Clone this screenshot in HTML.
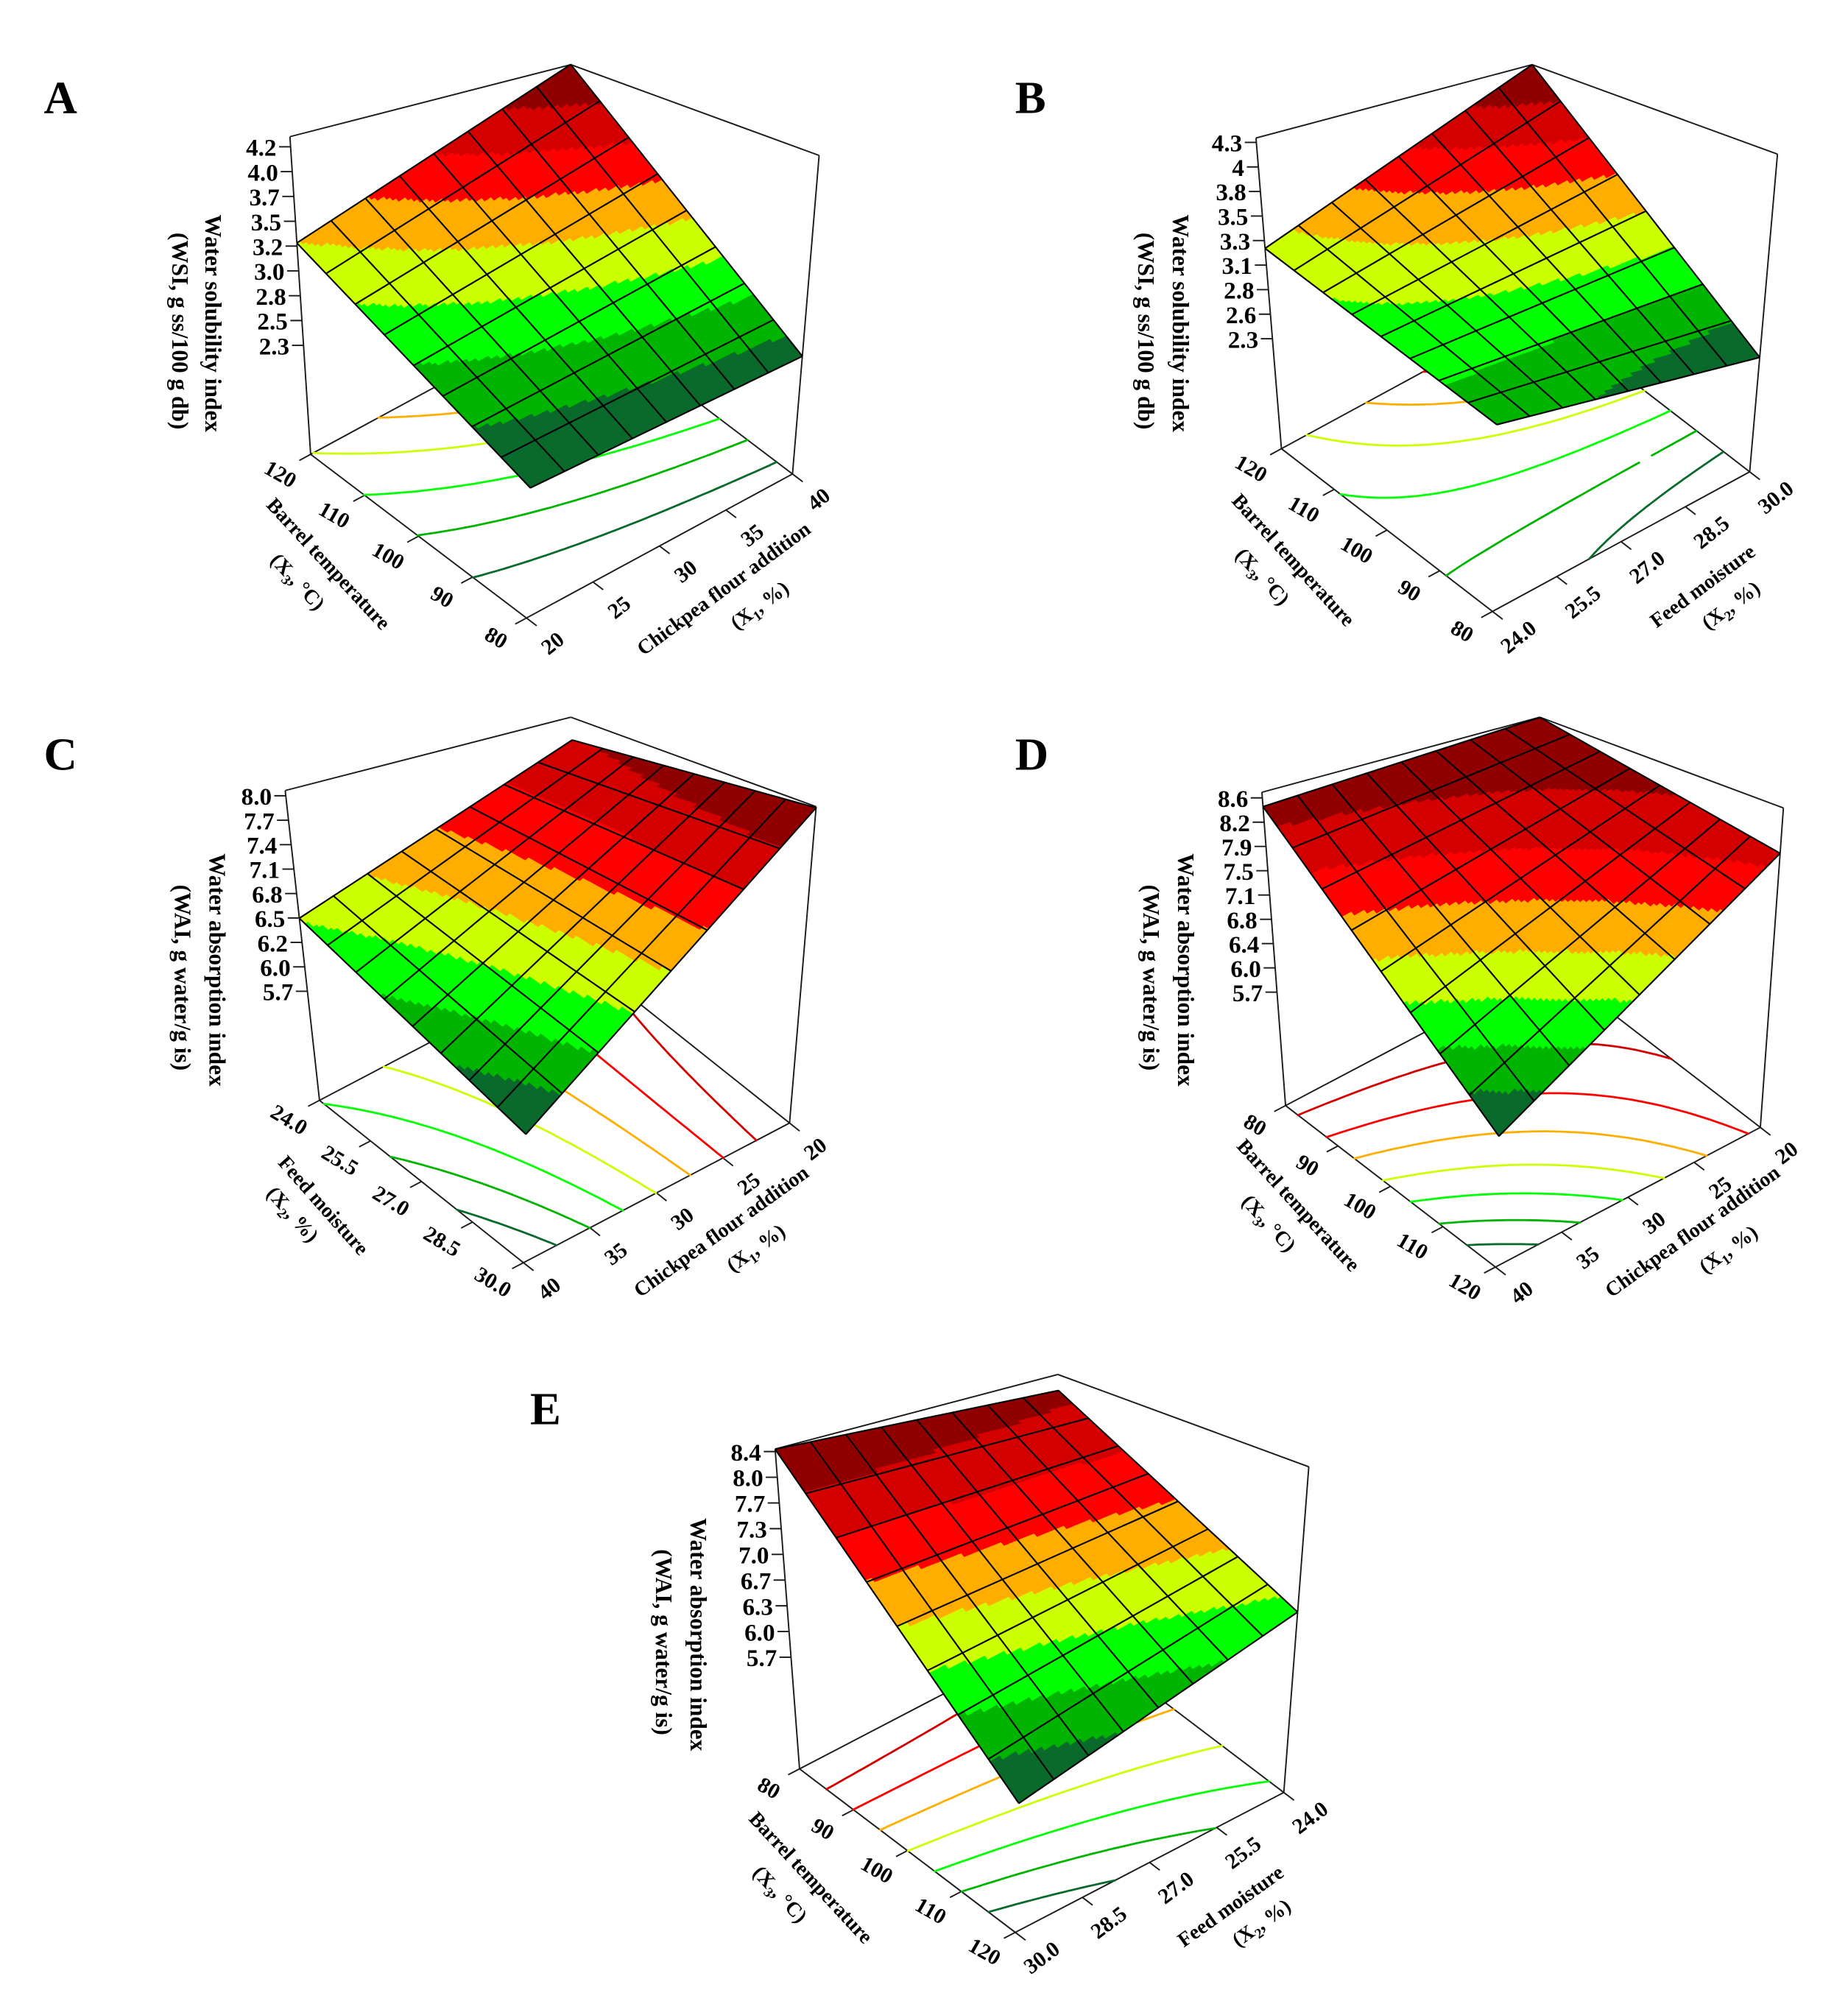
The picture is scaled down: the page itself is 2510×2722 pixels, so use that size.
<!DOCTYPE html>
<html><head><meta charset="utf-8"><title>Response surface plots</title>
<style>
html,body{margin:0;padding:0;background:#fff;}
svg{display:block;}
text{font-family:"Liberation Serif",serif;font-weight:bold;fill:#000;}
</style></head>
<body>
<svg id="fig" xmlns="http://www.w3.org/2000/svg" width="2510" height="2722" viewBox="0 0 1440 1562"></svg>
<script>
// ---------------- DATA ----------------
const colors = ['#0a6a2c','#00b400','#00ff00','#ccff00','#ffae00','#ff0000','#d40000','#900000'];
// surface values at corners [front, right, left, back]
const cornersA = [2.27, 2.38, 3.28, 4.30];
const cornersB = [2.72, 2.32, 3.22, 4.345];
const cornersC = [5.64, 8.05, 6.56, 7.72];
const cornersD = [5.60, 8.02, 8.47, 8.68];
const cornersE = [5.62, 6.56, 8.43, 8.17];
// z axis limits (floor, top of box)
const zLimA = [1.257, 4.297];
const zLimB = [1.18, 4.345];
const zLimC = [4.417, 8.062];
const zLimD = [4.007, 8.684];
const zLimE = [4.234, 8.434];
// contour / band levels
const levelsA = [2.52, 2.78, 3.03, 3.29, 3.54, 3.79, 4.05];
const levelsB = [2.57, 2.83, 3.08, 3.33, 3.59, 3.84, 4.09];
const levelsC = [5.94, 6.24, 6.54, 6.84, 7.15, 7.45, 7.75];
const levelsD = [5.99, 6.37, 6.76, 7.14, 7.53, 7.91, 8.30];
const levelsE = [5.97, 6.32, 6.67, 7.02, 7.38, 7.73, 8.08];
// z tick labels (top to bottom) and their value range
const zTicksA = ['4.2','4.0','3.7','3.5','3.2','3.0','2.8','2.5','2.3'];
const zTicksB = ['4.3','4','3.8','3.5','3.3','3.1','2.8','2.6','2.3'];
const zTicksC = ['8.0','7.7','7.4','7.1','6.8','6.5','6.2','6.0','5.7'];
const zTicksD = ['8.6','8.2','7.9','7.5','7.1','6.8','6.4','6.0','5.7'];
const zTicksE = ['8.4','8.0','7.7','7.3','7.0','6.7','6.3','6.0','5.7'];
const zRangeA = [2.3, 4.2];
const zRangeB = [2.3, 4.3];
const zRangeC = [5.7, 8.0];
const zRangeD = [5.7, 8.6];
const zRangeE = [5.7, 8.4];
// floor tick labels: left edge (left corner -> front), right edge (front -> right corner)
const leftTicksA = ['120','110','100','90','80'];
const rightTicksA = ['20','25','30','35','40'];
const leftTicksB = ['120','110','100','90','80'];
const rightTicksB = ['24.0','25.5','27.0','28.5','30.0'];
const leftTicksC = ['24.0','25.5','27.0','28.5','30.0'];
const rightTicksC = ['40','35','30','25','20'];
const leftTicksD = ['80','90','100','110','120'];
const rightTicksD = ['40','35','30','25','20'];
const leftTicksE = ['80','90','100','110','120'];
const rightTicksE = ['30.0','28.5','27.0','25.5','24.0'];

// ---------------- GEOMETRY (zoom-frame coords + transform) ----------------
const geoA = {ox:0, oy:-3, sx:1/2.17, sy:1/2.94, F:[890,1425], R:[1340,1095], L:[525,1050], TL:[490,322], TB:[965,157], TR:[1385,365]};
const geoB = {ox:723, oy:-3, sx:1/2.17, sy:1/2.94, F:[955,1410], R:[1390,1090], L:[598,1037], TL:[555,325], TB:[1022,157], TR:[1437,362]};
const geoC = {ox:0, oy:525, sx:1/2.17, sy:1/2.94, F:[885,1350], R:[1335,1030], L:[540,978], TL:[482,268], TB:[965,100], TR:[1380,305]};
const geoD = {ox:723, oy:525, sx:1/2.17, sy:1/2.94, F:[960,1360], R:[1408,1040], L:[605,990], TL:[565,272], TB:[1035,100], TR:[1447,308]};
const geoE = {ox:373, oy:1061, sx:1/2.26, sy:1/3.10, F:[945,1380], R:[1418,1042], L:[565,985], TL:[522,212], TB:[1020,32], TR:[1462,255]};

const NS = 'http://www.w3.org/2000/svg';
const svg = document.getElementById('fig');
function mk(tag, attrs, parent){
  const e = document.createElementNS(NS, tag);
  for (const k in attrs) e.setAttribute(k, attrs[k]);
  parent.appendChild(e);
  return e;
}
function bil(a,b,c,d,u,v){ // a=(0,0) b=(1,0) c=(0,1) d=(1,1)
  return [(1-u)*(1-v)*a[0]+u*(1-v)*b[0]+(1-u)*v*c[0]+u*v*d[0],
          (1-u)*(1-v)*a[1]+u*(1-v)*b[1]+(1-u)*v*c[1]+u*v*d[1]];
}
function bilS(z,u,v){ return (1-u)*(1-v)*z[0]+u*(1-v)*z[1]+(1-u)*v*z[2]+u*v*z[3]; }

function drawPanel(id, letter, letterPos, geo, corners, zLim, levels, zTicks, zRange, leftTicks, rightTicks, zTitle, zTitlePos, leftTitle, leftTitlePos, rightTitle, rightTitlePos){
  const g = mk('g', {}, svg);
  
  
  const T = p => [geo.ox + p[0]*geo.sx, geo.oy + p[1]*geo.sy];
  const F=T(geo.F), R=T(geo.R), L=T(geo.L), TL=T(geo.TL), TB=T(geo.TB), TR=T(geo.TR);
  const B=[L[0]+R[0]-F[0], L[1]+R[1]-F[1]];
  const TF=[TL[0]+TR[0]-TB[0], TL[1]+TR[1]-TB[1]];
  const wOf = z => (z - zLim[0])/(zLim[1]-zLim[0]);
  const proj = (u,v,w) => { const f=bil(F,R,L,B,u,v), t=bil(TF,TR,TL,TB,u,v); return [f[0]+w*(t[0]-f[0]), f[1]+w*(t[1]-f[1])]; };
  const ln = (a,b,name,w,col) => { const e=mk('line',{x1:a[0].toFixed(2),y1:a[1].toFixed(2),x2:b[0].toFixed(2),y2:b[1].toFixed(2),stroke:col||'#1a1a1a','stroke-width':w||1.1}, g);   return e; };

  const lt = mk('text', {x:letterPos[0], y:letterPos[1], 'font-size':36}, g);
  
  
  lt.textContent = letter;

  ln(TL,TB,'box-edge-top-left'); ln(TB,TR,'box-edge-top-right');
  ln(L,TL,'z-axis-line'); ln(R,TR,'box-edge-right-vertical');
  ln(L,F,'floor-edge-left'); ln(F,R,'floor-edge-right');
  ln(L,B,'floor-edge-back-left'); ln(R,B,'floor-edge-back-right');

  for (let i=0;i<zTicks.length;i++){
    const val = zRange[1] - i*(zRange[1]-zRange[0])/(zTicks.length-1);
    const p = proj(0,1,wOf(val));
    ln(p,[p[0]-9,p[1]],'z-tick',1.1);
    const t = mk('text',{x:(p[0]-11).toFixed(1), y:(p[1]+7).toFixed(1),'font-size':19,'text-anchor':'end'}, g);
    
    
    t.textContent = zTicks[i];
  }
  const norm = (a,b) => { const dx=a[0]-b[0], dy=a[1]-b[1], l=Math.hypot(dx,dy); return [dx/l,dy/l]; };
  const dL = norm(F,R), dR = norm(F,L);
  const angL = Math.atan2(F[1]-L[1],F[0]-L[0])*180/Math.PI;
  const angR = Math.atan2(R[1]-F[1],R[0]-F[0])*180/Math.PI;
  for (let i=0;i<leftTicks.length;i++){
    const v = 1 - i/(leftTicks.length-1);
    const p = proj(0,v,0);
    ln(p,[p[0]+dL[0]*10,p[1]+dL[1]*10],'left-floor-tick',1.1);
    const q=[p[0]+dL[0]*30,p[1]+dL[1]*30+6];
    const t = mk('text',{x:q[0].toFixed(1),y:q[1].toFixed(1),'font-size':17,'text-anchor':'middle',transform:`rotate(${(angL*0.8).toFixed(1)} ${q[0].toFixed(1)} ${q[1].toFixed(1)})`}, g);
    
    
    t.textContent = leftTicks[i];
  }
  for (let i=0;i<rightTicks.length;i++){
    const u = i/(rightTicks.length-1);
    const p = proj(u,0,0);
    ln(p,[p[0]+dR[0]*10,p[1]+dR[1]*10],'right-floor-tick',1.1);
    const q=[p[0]+dR[0]*30,p[1]+dR[1]*30+6];
    const t = mk('text',{x:q[0].toFixed(1),y:q[1].toFixed(1),'font-size':17,'text-anchor':'middle',transform:`rotate(${(angR*1.35).toFixed(1)} ${q[0].toFixed(1)} ${q[1].toFixed(1)})`}, g);
    
    
    t.textContent = rightTicks[i];
  }
  const title = (lines, pos, rot, name, fs) => {
    for (let k=0;k<lines.length;k++){
      const t = mk('text',{x:pos[k][0],y:pos[k][1],'font-size':fs,'text-anchor':'middle',transform:`rotate(${rot.toFixed(1)} ${pos[k][0]} ${pos[k][1]})`}, g);
      
      
      t.innerHTML = lines[k];
    }
  };
  title(zTitle, zTitlePos, 90, 'z-axis-title', 18);
  title(leftTitle, leftTitlePos, angL+10, 'left-axis-title', 16);
  title(rightTitle, rightTitlePos, angR-8, 'right-axis-title', 16);

  // floor contours (marching squares)
  const N = 40;
  const val = (i,j) => bilS(corners, i/N, j/N);
  for (let k=0;k<levels.length;k++){
    const lev = levels[k];
    let d = '';
    for (let i=0;i<N;i++) for (let j=0;j<N;j++){
      const c = [[i,j],[i+1,j],[i+1,j+1],[i,j+1]];
      const pts = [];
      for (let e=0;e<4;e++){
        const a=c[e], b=c[(e+1)%4];
        const va=val(a[0],a[1]), vb=val(b[0],b[1]);
        if ((va-lev)*(vb-lev) < 0){
          const t=(lev-va)/(vb-va);
          pts.push(proj((a[0]+t*(b[0]-a[0]))/N,(a[1]+t*(b[1]-a[1]))/N,0));
        }
      }
      for (let m=0;m+1<pts.length;m+=2) d += `M${pts[m][0].toFixed(1)},${pts[m][1].toFixed(1)}L${pts[m+1][0].toFixed(1)},${pts[m+1][1].toFixed(1)}`;
    }
    if (d){
      const p = mk('path',{d:d,stroke:colors[k],'stroke-width':1.6,fill:'none','stroke-linecap':'round'}, g);
      
      
    }
  }

  // surface: screen position = bilinear of the 4 projected surface corners (straight edges)
  const sF = proj(0,0,wOf(corners[0])), sR = proj(1,0,wOf(corners[1])), sL = proj(0,1,wOf(corners[2])), sB = proj(1,1,wOf(corners[3]));
  const sp = (u,v) => bil(sF,sR,sL,sB,u,v);
  const S = 84;
  const surf = mk('g',{}, g);
  
  
  for (let i=0;i<S;i++) for (let j=0;j<S;j++){
    const u0=i/S,u1=(i+1)/S,v0=j/S,v1=(j+1)/S;
    const z = bilS(corners,(u0+u1)/2,(v0+v1)/2);
    let b=0; while (b<levels.length && z>levels[b]) b++;
    const q=[sp(u0,v0),sp(u1,v0),sp(u1,v1),sp(u0,v1)];
    const poly = mk('polygon',{points:q.map(p=>p[0].toFixed(1)+','+p[1].toFixed(1)).join(' '),fill:colors[b],stroke:colors[b],'stroke-width':0.7}, surf);
    
    
  }
  let md='';
  const M=8;
  for (let a=0;a<=M;a++){
    const p1=sp(a/M,0), p2=sp(a/M,1), p3=sp(0,a/M), p4=sp(1,a/M);
    md += `M${p1[0].toFixed(1)},${p1[1].toFixed(1)}L${p2[0].toFixed(1)},${p2[1].toFixed(1)}M${p3[0].toFixed(1)},${p3[1].toFixed(1)}L${p4[0].toFixed(1)},${p4[1].toFixed(1)}`;
  }
  const mesh = mk('path',{d:md,stroke:'#000','stroke-width':1.2,fill:'none'}, g);
  
  
}

const sub = (s) => `<tspan font-size="11" dy="4">${s}</tspan><tspan dy="-4">`;
const X1 = `(X${sub('1')}, %)</tspan>`;
const X2 = `(X${sub('2')}, %)</tspan>`;
const X3 = `(X${sub('3')}, °C)</tspan>`;
const WSI = ['Water solubility index','(WSI, g ss/100 g db)'];
const WAI = ['Water absorption index','(WAI, g water/g is)'];

drawPanel('a','A',[34,88],geoA,cornersA,zLimA,levelsA,zTicksA,zRangeA,leftTicksA,rightTicksA,
  WSI,[[160,252],[134,258]],['Barrel temperature',X3],[[252,443],[228,457]],['Chickpea flour addition',X1],[[567,463],[595,476]]);
drawPanel('b','B',[791,88],geoB,cornersB,zLimB,levelsB,zTicksB,zRangeB,leftTicksB,rightTicksB,
  WSI,[[914,252],[887,258]],['Barrel temperature',X3],[[1004,440],[980,453]],['Feed moisture',X2],[[1330,461],[1352,476]]);
drawPanel('c','C',[34,600],geoC,cornersC,zLimC,levelsC,zTicksC,zRangeC,leftTicksC,rightTicksC,
  WAI,[[163,756],[136,762]],['Feed moisture',X2],[[248,943],[224,950]],['Chickpea flour addition',X1],[[565,964],[592,977]]);
drawPanel('d','D',[791,600],geoD,cornersD,zLimD,levelsD,zTicksD,zRangeD,leftTicksD,rightTicksD,
  WAI,[[918,756],[891,762]],['Barrel temperature',X3],[[1008,943],[985,957]],['Chickpea flour addition',X1],[[1322,964],[1350,978]]);
drawPanel('e','E',[413,1110],geoE,cornersE,zLimE,levelsE,zTicksE,zRangeE,leftTicksE,rightTicksE,
  WAI,[[538,1274],[511,1280]],['Barrel temperature',X3],[[628,1467],[604,1480]],['Feed moisture',X2],[[962,1490],[986,1503]]);
</script>
</body></html>
